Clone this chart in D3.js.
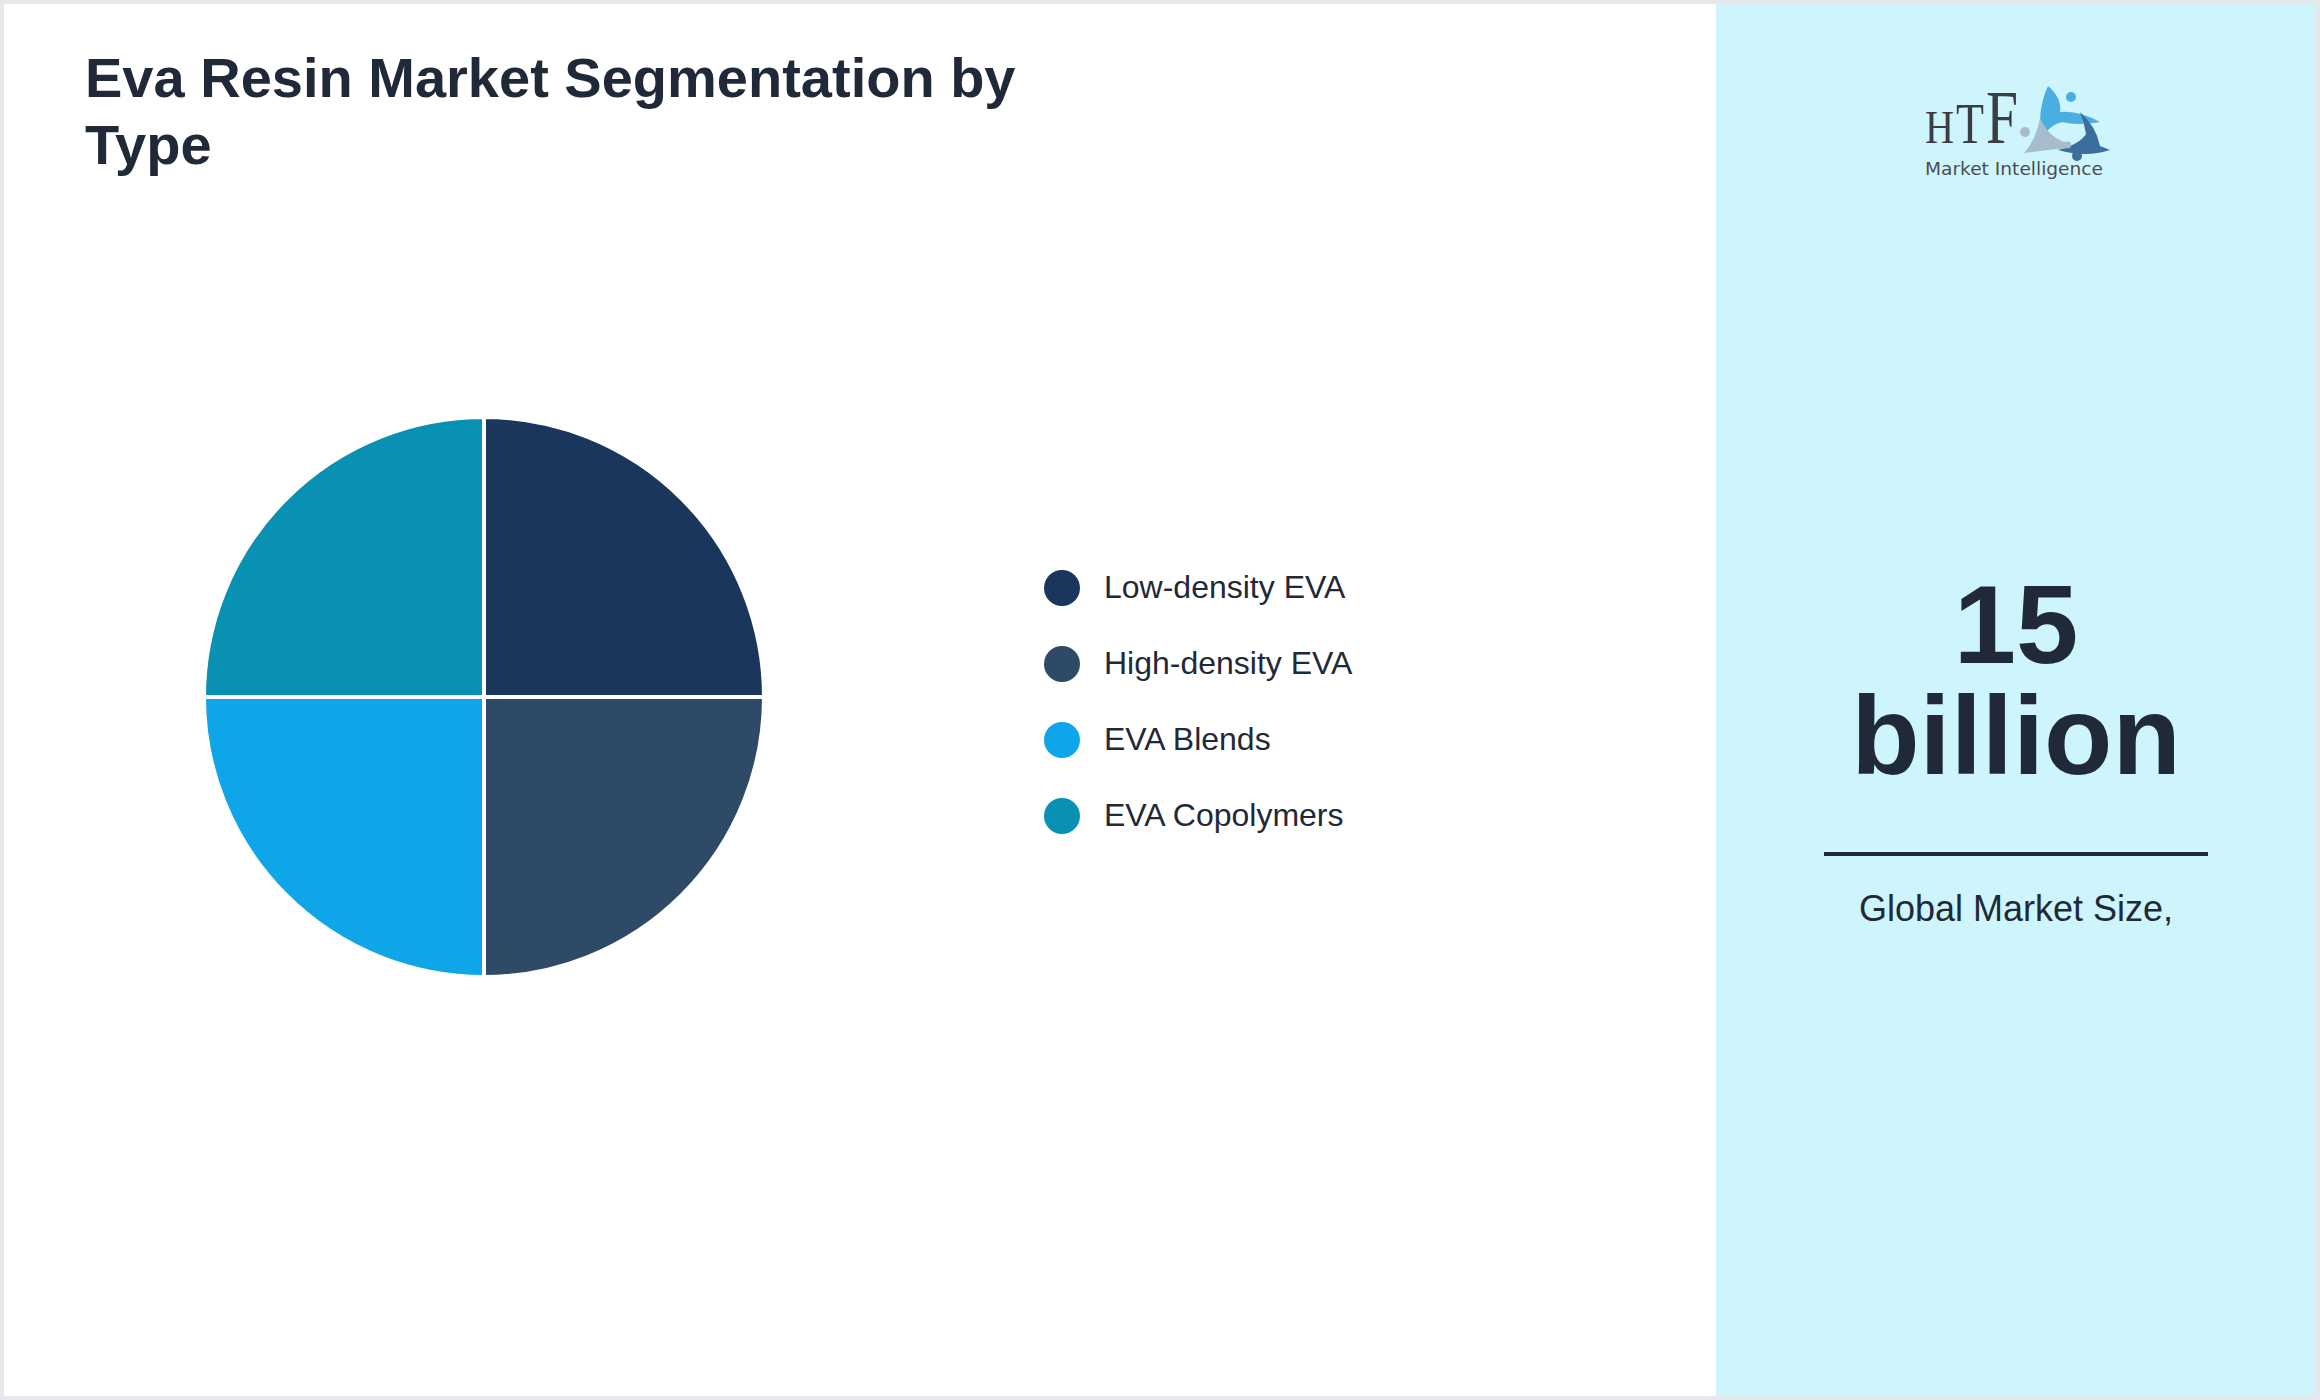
<!DOCTYPE html>
<html>
<head>
<meta charset="utf-8">
<script src="https://cdn.jsdelivr.net/npm/d3@7"></script>
<style>
  body { margin: 0; background: #e5e7eb; }
  svg { display: block; font-family: "Liberation Sans", Arial, sans-serif; }
</style>
</head>
<body>
<div id="chart"></div>
<script>
// chart data
var categories = ["Low-density EVA", "High-density EVA", "EVA Blends", "EVA Copolymers"];
var shares = [25, 25, 25, 25];
var colors = ["#1b365d", "#2e4a66", "#0ea5e9", "#0891b2"];
var titleLines = ["Eva Resin Market Segmentation by", "Type"];
var sizeLines = ["15", "billion"];
var sizeCaption = "Global Market Size,";

var svgWidth = 2320;
var svgHeight = 1400;
var ink = "#1f2937";

var svg = d3.select("#chart")
  .append("svg")
  .attr("width", svgWidth)
  .attr("height", svgHeight);

// card background + side panel
svg.append("rect")
  .attr("width", svgWidth).attr("height", svgHeight)
  .attr("fill", "#e5e7eb");
svg.append("rect")
  .attr("x", 4).attr("y", 4)
  .attr("width", svgWidth - 8).attr("height", svgHeight - 8)
  .attr("fill", "#ffffff");
svg.append("rect")
  .attr("x", 1716).attr("y", 4)
  .attr("width", 600).attr("height", svgHeight - 8)
  .attr("fill", "#cff5fc");

// title
svg.append("text")
  .attr("x", 85).attr("y", 97)
  .attr("font-size", 56).attr("font-weight", "bold")
  .attr("fill", ink)
  .selectAll("tspan")
  .data(titleLines)
  .enter()
  .append("tspan")
  .attr("x", 85)
  .attr("dy", function(d, i) { return i === 0 ? 0 : 67; })
  .text(function(d) { return d; });

// pie
var color = d3.scaleOrdinal().domain(categories).range(colors);
var pie = d3.pie().sort(null).value(function(d) { return d; });
var arc = d3.arc().innerRadius(0).outerRadius(280);

var pieG = svg.append("g").attr("transform", "translate(484,697)");
pieG.selectAll("path")
  .data(pie(shares))
  .enter()
  .append("path")
  .attr("d", arc)
  .attr("fill", function(d, i) { return color(categories[i]); })
  .attr("stroke", "#ffffff")
  .attr("stroke-width", 4);

// legend
var legendY = d3.scaleBand().domain(categories).range([550, 854]);
var legend = svg.append("g");
var item = legend.selectAll("g")
  .data(categories)
  .enter()
  .append("g")
  .attr("transform", function(d) {
    return "translate(0," + (legendY(d) + legendY.bandwidth() / 2) + ")";
  });
item.append("circle")
  .attr("cx", 1062).attr("cy", 0).attr("r", 18)
  .attr("fill", function(d) { return color(d); });
item.append("text")
  .attr("x", 1104).attr("y", 9.5)
  .attr("font-size", 32)
  .attr("fill", ink)
  .text(function(d) { return d; });

// market size block
svg.append("text")
  .attr("text-anchor", "middle")
  .attr("font-size", 112).attr("font-weight", "bold")
  .attr("fill", ink)
  .selectAll("tspan")
  .data(sizeLines)
  .enter()
  .append("tspan")
  .attr("x", 2016)
  .attr("y", function(d, i) { return 663 + i * 111; })
  .text(function(d) { return d; });

svg.append("rect")
  .attr("x", 1824).attr("y", 852)
  .attr("width", 384).attr("height", 4)
  .attr("fill", ink);

svg.append("text")
  .attr("x", 2016).attr("y", 921)
  .attr("text-anchor", "middle")
  .attr("font-size", 36)
  .attr("fill", ink)
  .text(sizeCaption);

// logo
var logo = svg.append("g");
var htf = logo.append("text")
  .attr("y", 143)
  .attr("font-family", "Liberation Serif, serif")
  .attr("fill", "#3a3d42");
htf.append("tspan").attr("x", 1925).attr("font-size", 46)
  .attr("textLength", 29).attr("lengthAdjust", "spacingAndGlyphs").text("H");
htf.append("tspan").attr("x", 1956).attr("font-size", 58)
  .attr("textLength", 28).attr("lengthAdjust", "spacingAndGlyphs").text("T");
htf.append("tspan").attr("x", 1986).attr("font-size", 76)
  .attr("textLength", 32).attr("lengthAdjust", "spacingAndGlyphs").text("F");
logo.append("text").attr("x", 1925).attr("y", 175)
  .attr("font-family", "DejaVu Sans, sans-serif").attr("font-size", 18)
  .attr("fill", "#4a4d52").attr("textLength", 178).attr("lengthAdjust", "spacingAndGlyphs")
  .text("Market Intelligence");

logo.append("path")
  .attr("d", "M2048,86 Q2062,98 2060,112 Q2078,110 2100,122 Q2078,126 2062,122 Q2046,126 2042,142 Q2036,112 2048,86 Z")
  .attr("fill", "#4aaee0");
logo.append("circle").attr("cx", 2071).attr("cy", 97).attr("r", 5).attr("fill", "#4aaee0");
logo.append("path")
  .attr("d", "M2080,112 Q2096,126 2100,146 L2110,150 Q2086,158 2058,150 Q2080,144 2086,134 Q2084,122 2080,112 Z")
  .attr("fill", "#3b6e9c");
logo.append("circle").attr("cx", 2077).attr("cy", 156).attr("r", 5).attr("fill", "#3b6e9c");
logo.append("path")
  .attr("d", "M2040,118 Q2048,136 2064,142 Q2074,140 2070,148 Q2046,150 2024,153 Q2036,140 2040,118 Z")
  .attr("fill", "#a7bccd");
logo.append("circle").attr("cx", 2025).attr("cy", 132).attr("r", 5).attr("fill", "#a7bccd");
</script>
</body>
</html>
